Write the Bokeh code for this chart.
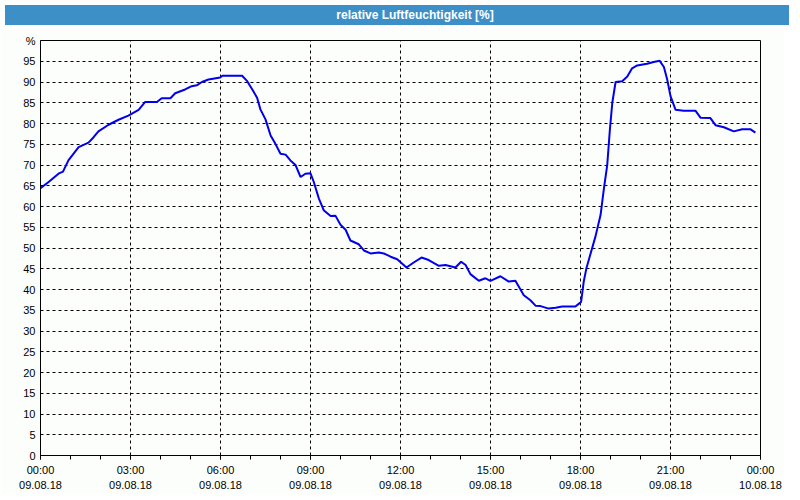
from bokeh.plotting import figure
from bokeh.models import Div, FixedTicker, Range1d
from bokeh.layouts import column
from bokeh.embed import file_html
from bokeh.resources import INLINE

title_text = "relative Luftfeuchtigkeit [%]"

# time of day in hours since 09.08.18 00:00
hours = [0.00, 0.27, 0.60, 0.75, 0.93, 1.27, 1.60, 1.77, 1.93, 2.27, 2.60, 2.93,
         3.27, 3.49, 3.88, 4.04, 4.33, 4.49, 4.82, 5.04, 5.21, 5.38, 5.60, 5.99,
         6.06, 6.72, 6.89, 7.06, 7.22, 7.33, 7.50, 7.67, 7.83, 8.00, 8.17, 8.33,
         8.50, 8.67, 8.83, 9.00, 9.11, 9.28, 9.44, 9.67, 9.83, 10.00, 10.17, 10.33,
         10.61, 10.78, 11.00, 11.28, 11.44, 11.67, 11.89, 12.06, 12.20, 12.44, 12.70,
         12.94, 13.28, 13.50, 13.83, 14.02, 14.17, 14.33, 14.61, 14.83, 15.00, 15.33,
         15.61, 15.83, 16.11, 16.33, 16.50, 16.67, 16.94, 17.17, 17.39, 17.83, 17.95,
         18.02, 18.11, 18.20, 18.33, 18.50, 18.67, 18.78, 18.89, 18.98, 19.06, 19.17,
         19.39, 19.56, 19.72, 19.89, 20.22, 20.44, 20.64, 20.78, 20.89, 21.00, 21.17,
         21.44, 21.83, 22.00, 22.33, 22.50, 22.78, 23.11, 23.39, 23.67, 23.83]

humidity = [64.4, 65.9, 67.9, 68.4, 71.1, 74.3, 75.4, 76.7, 78.1, 79.7, 80.9, 81.9,
            83.3, 85.2, 85.2, 86.1, 86.1, 87.3, 88.2, 89.0, 89.2, 90.0, 90.6, 91.1,
            91.5, 91.5, 90.2, 88.2, 86.2, 83.4, 81.0, 77.1, 75.1, 72.7, 72.5, 71.1,
            70.0, 67.1, 67.9, 68.0, 65.9, 61.9, 59.1, 57.7, 57.8, 55.6, 54.4, 51.8,
            50.9, 49.4, 48.7, 48.9, 48.7, 47.9, 47.3, 46.2, 45.3, 46.5, 47.7,
            47.1, 45.7, 45.9, 45.3, 46.7, 45.9, 43.7, 42.1, 42.7, 42.1, 43.2,
            41.9, 42.1, 38.6, 37.4, 36.1, 36.0, 35.4, 35.6, 35.9, 35.9, 36.6,
            37.0, 42.0, 45.2, 48.5, 52.8, 58.0, 64.3, 69.9, 78.6, 85.0, 90.0,
            90.2, 91.3, 93.3, 94.0, 94.4, 94.8, 95.1, 93.6, 90.6, 86.6, 83.3,
            83.1, 83.1, 81.4, 81.3, 79.6, 79.1, 78.1, 78.6, 78.6, 77.8]

x_ticks = [0, 3, 6, 9, 12, 15, 18, 21, 24]
x_tick_labels = ["00:00\n09.08.18", "03:00\n09.08.18", "06:00\n09.08.18",
                 "09:00\n09.08.18", "12:00\n09.08.18", "15:00\n09.08.18",
                 "18:00\n09.08.18", "21:00\n09.08.18", "00:00\n10.08.18"]
y_ticks = list(range(0, 101, 5))
y_top_label = "%"

BLUE_BAR = "#3c8fc7"
BG = "#fcfefc"
FONT = "Liberation Sans"

header = Div(text=title_text, width=784, height=20,
             styles={"background-color": BLUE_BAR, "color": "white",
                     "font-family": FONT, "font-size": "12px", "font-weight": "bold",
                     "text-align": "center", "line-height": "20px",
                     "padding-left": "36px", "box-sizing": "border-box"})

p = figure(width=784, height=464, output_backend="svg", toolbar_location=None,
           x_range=Range1d(0, 24), y_range=Range1d(0, 100),
           min_border_left=40, min_border_right=24, min_border_top=10,
           min_border_bottom=36, background_fill_color=BG, border_fill_color=BG,
           outline_line_color="black", outline_line_width=1)

p.line(hours, humidity, line_color="#0000ee", line_width=2)

xa = p.xaxis[0]
xa.ticker = FixedTicker(ticks=x_ticks, minor_ticks=list(range(0, 25)))
xa.major_label_overrides = {t: l for t, l in zip(x_ticks, x_tick_labels)}
xa.major_tick_in = 0
xa.major_tick_out = 4
xa.minor_tick_in = 0
xa.minor_tick_out = 4
xa.major_tick_line_color = "black"
xa.minor_tick_line_color = "black"
xa.axis_line_color = "black"
xa.major_label_text_font = FONT
xa.major_label_text_font_size = "11px"
xa.major_label_text_color = "black"
xa.major_label_text_line_height = 1.3
xa.major_label_standoff = 4

ya = p.yaxis[0]
ya.ticker = FixedTicker(ticks=y_ticks, minor_ticks=[])
ya.major_label_overrides = {100: y_top_label}
ya.major_tick_in = 0
ya.major_tick_out = 0
ya.minor_tick_out = 0
ya.axis_line_color = "black"
ya.major_label_text_font = FONT
ya.major_label_text_font_size = "11px"
ya.major_label_text_color = "black"
ya.major_label_standoff = 5

p.xgrid.ticker = FixedTicker(ticks=x_ticks)
p.ygrid.ticker = FixedTicker(ticks=y_ticks)
for g in (p.xgrid[0], p.ygrid[0]):
    g.grid_line_color = "black"
    g.grid_line_dash = "3 3"
    g.grid_line_width = 1
    g.grid_line_alpha = 1.0

layout = column(header, p, spacing=0)
open("out.html", "w").write(file_html(layout, INLINE, title_text))
